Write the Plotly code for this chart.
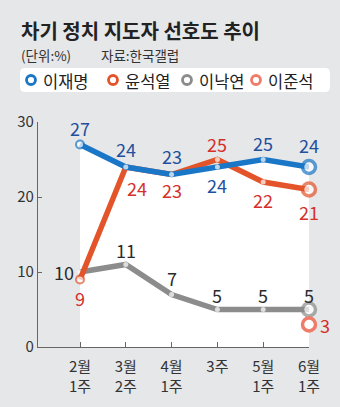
import plotly.graph_objects as go

categories = ["2월<br>1주", "3월<br>2주", "4월<br>1주", "3주", "5월<br>1주", "6월<br>1주"]
lee_jm = [27, 24, 23, 24, 25, 24]
yoon = [9, 24, 23, 25, 22, 21]
lee_ny = [10, 11, 7, 5, 5, 5]
lee_js_cat = ["6월<br>1주"]
lee_js = [3]
yticks = [0, 10, 20, 30]
series_names = ["이재명", "윤석열", "이낙연", "이준석"]

BG = "#e6e7e9"
BLUE, ORANGE, GRAY, SALMON = "#1a76c6", "#e4542b", "#8c8c8c", "#ee7c68"
BLUE_T, RED_T, DARK_T = "#1f4f9e", "#d62f2a", "#2b2b2b"
FONT = "Noto Sans CJK KR"

W, H = 340, 407
L, R, T, B = 38, 31, 122, 60
PW, PH = W - L - R, H - T - B


def px(x):
    return (x - L) / PW


def py(y):
    return (H - B - y) / PH


fig = go.Figure()

# white area under 이재명
fig.add_trace(go.Scatter(x=categories, y=lee_jm, mode="lines", line=dict(width=0, color="white"),
                         fill="tozeroy", fillcolor="white", hoverinfo="skip", showlegend=False))


def marker_style(n, color, first_ring=False):
    sizes = [5] * n
    lw = [0] * n
    if first_ring:
        sizes[0] = 8
        lw[0] = 2
    sizes[-1] = 13
    lw[-1] = 3.5
    return dict(size=sizes, color="white", line=dict(color=color, width=lw))


fig.add_trace(go.Scatter(x=categories, y=lee_ny, mode="lines+markers", name=series_names[2],
                         line=dict(color=GRAY, width=5.5), marker=marker_style(6, GRAY), cliponaxis=False))
fig.add_trace(go.Scatter(x=categories, y=yoon, mode="lines+markers", name=series_names[1],
                         line=dict(color=ORANGE, width=5.5), marker=marker_style(6, ORANGE, True), cliponaxis=False))
fig.add_trace(go.Scatter(x=lee_js_cat, y=lee_js, mode="markers", name=series_names[3],
                         marker=dict(size=13, color="white", line=dict(color=SALMON, width=3.5)), cliponaxis=False))
fig.add_trace(go.Scatter(x=categories, y=lee_jm, mode="lines+markers", name=series_names[0],
                         line=dict(color=BLUE, width=5.5), marker=marker_style(6, BLUE, True), cliponaxis=False))

ann = []
label_font = dict(family=FONT, size=18)

jm_shift = [(0, 17), (0, 18), (0, 19), (0, -18), (0, 17), (0, 22)]
yoon_shift = [(0, -18), (11, -21), (0, -15), (0, 16), (0, -18), (0, -22)]
ny_shift = [(-16, 0), (0, 15), (0, 17), (0, 15), (0, 15), (0, 15)]

for vals, shifts, col in [(lee_jm, jm_shift, BLUE_T), (yoon, yoon_shift, RED_T), (lee_ny, ny_shift, DARK_T)]:
    for c, v, (dx, dy) in zip(categories, vals, shifts):
        ann.append(dict(x=c, y=v, xref="x", yref="y", text=str(v), showarrow=False,
                        xshift=dx, yshift=dy, font=dict(label_font, color=col)))
for c, v in zip(lee_js_cat, lee_js):
    ann.append(dict(x=c, y=v, xref="x", yref="y", text=str(v), showarrow=False,
                    xshift=16, yshift=0, font=dict(label_font, color=RED_T)))

# title & source
ann.append(dict(x=px(19), y=py(30), xref="paper", yref="paper", xanchor="left", yanchor="middle",
                text="<b>차기 정치 지도자 선호도 추이</b>", showarrow=False,
                font=dict(family=FONT, size=20, color="#222")))
ann.append(dict(x=px(19), y=py(55), xref="paper", yref="paper", xanchor="left", yanchor="middle",
                text="(단위:%)", showarrow=False, font=dict(family=FONT, size=13.5, color="#333")))
ann.append(dict(x=px(99), y=py(55), xref="paper", yref="paper", xanchor="left", yanchor="middle",
                text="자료:한국갤럽", showarrow=False, font=dict(family=FONT, size=13.5, color="#333")))

shapes = []
# legend box with rounded corners
x0, x1, y0, y1, r = 20, 330, 68, 92, 5
path = (f"M {px(x0 + r)} {py(y0)} L {px(x1 - r)} {py(y0)} Q {px(x1)} {py(y0)} {px(x1)} {py(y0 + r)} "
        f"L {px(x1)} {py(y1 - r)} Q {px(x1)} {py(y1)} {px(x1 - r)} {py(y1)} "
        f"L {px(x0 + r)} {py(y1)} Q {px(x0)} {py(y1)} {px(x0)} {py(y1 - r)} "
        f"L {px(x0)} {py(y0 + r)} Q {px(x0)} {py(y0)} {px(x0 + r)} {py(y0)} Z")
shapes.append(dict(type="path", xref="paper", yref="paper", path=path, fillcolor="white", line=dict(width=0)))

leg_x = [31, 113, 187, 256]
leg_cols = [BLUE, ORANGE, GRAY, SALMON]
for cx, col, name in zip(leg_x, leg_cols, series_names):
    rr = 4.5
    shapes.append(dict(type="circle", xref="paper", yref="paper",
                       x0=px(cx - rr), x1=px(cx + rr), y0=py(80 + rr), y1=py(80 - rr),
                       line=dict(color=col, width=2.8), fillcolor="white"))
    ann.append(dict(x=px(cx + 10), y=py(80.5), xref="paper", yref="paper", xanchor="left", yanchor="middle",
                    text=name, showarrow=False, font=dict(family=FONT, size=16.5, color="#222")))

fig.update_layout(
    width=W, height=H, margin=dict(l=L, r=R, t=T, b=B),
    paper_bgcolor=BG, plot_bgcolor=BG, showlegend=False,
    annotations=ann, shapes=shapes,
    xaxis=dict(type="category", categoryorder="array", categoryarray=categories,
               range=[-0.917, 5], showgrid=False, zeroline=False, showline=True, linecolor="#666",
               linewidth=1.2, ticks="inside", ticklen=5, tickcolor="#666", tickwidth=1.2,
               tickfont=dict(family=FONT, size=15, color="#333"), ticklabelstandoff=6),
    yaxis=dict(range=[0, 30], tickvals=yticks, showgrid=False, zeroline=False, showline=True,
               linecolor="#666", linewidth=1.2, ticks="inside", ticklen=4, tickcolor="#666", tickwidth=1.2,
               tickfont=dict(family=FONT, size=15, color="#333"), ticklabelstandoff=0),
)

fig.write_html("out.html")
